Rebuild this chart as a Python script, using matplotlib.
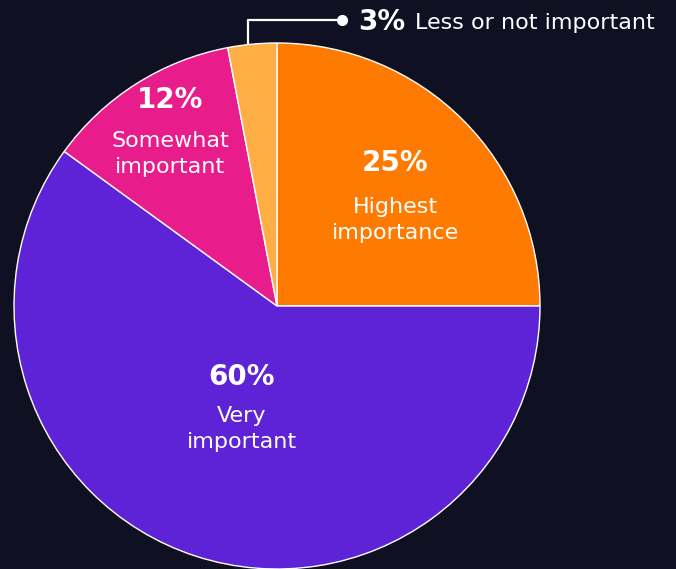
import matplotlib
matplotlib.use('Agg')
import matplotlib.pyplot as plt

# slice data, clockwise from 12 o'clock
shares = [25, 60, 12, 3]
pcts = ['25%', '60%', '12%', '3%']
names = ['Highest\nimportance', 'Very\nimportant', 'Somewhat\nimportant', 'Less or not important']
colors = ['#FF7A00', '#5E22D7', '#E91C8B', '#FFAD45']

BG = '#0F1123'
FONT = ['DejaVu Sans']


def main():
    fig = plt.figure(figsize=(6.76, 5.69), dpi=100, facecolor=BG)
    ax = fig.add_axes([0, 0, 1, 1])
    ax.set_facecolor(BG)

    # pie in pixel-like coords (y measured from bottom)
    cx, cy, r = 277, 569 - 306, 263
    ax.pie(shares, colors=colors, startangle=90, counterclock=False,
           center=(cx, cy), radius=r, frame=True,
           wedgeprops=dict(edgecolor='white', linewidth=1.0))
    ax.set_xlim(0, 676)
    ax.set_ylim(0, 569)
    ax.axis('off')

    # in-slice labels (pixel positions of text, top-left origin)
    label_pos = [(395, 395, 163, 220), (242, 242, 377, 429), (170, 170, 100, 154)]
    for i, (xp, xn, yp, yn) in enumerate(label_pos):
        ax.text(xp, 569 - yp, pcts[i], color='white', fontsize=20, fontweight='bold',
                ha='center', va='center', family=FONT)
        ax.text(xn, 569 - yn, names[i], color='white', fontsize=16,
                ha='center', va='center', family=FONT, linespacing=1.38)

    # callout for the small slice
    ax.plot([248, 248, 342], [569 - 45, 569 - 20, 569 - 20], color='white', lw=1.6,
            solid_capstyle='butt')
    ax.plot([342], [569 - 20], 'o', color='white', ms=7)
    ax.text(358, 569 - 22, pcts[3], color='white', fontsize=20, fontweight='bold',
            ha='left', va='center', family=FONT)
    ax.text(415, 569 - 23, names[3], color='white', fontsize=16,
            ha='left', va='center', family=FONT)

    fig.savefig('out.png', dpi=100, facecolor=BG)
    plt.close(fig)


if __name__ == "__main__":
    main()
